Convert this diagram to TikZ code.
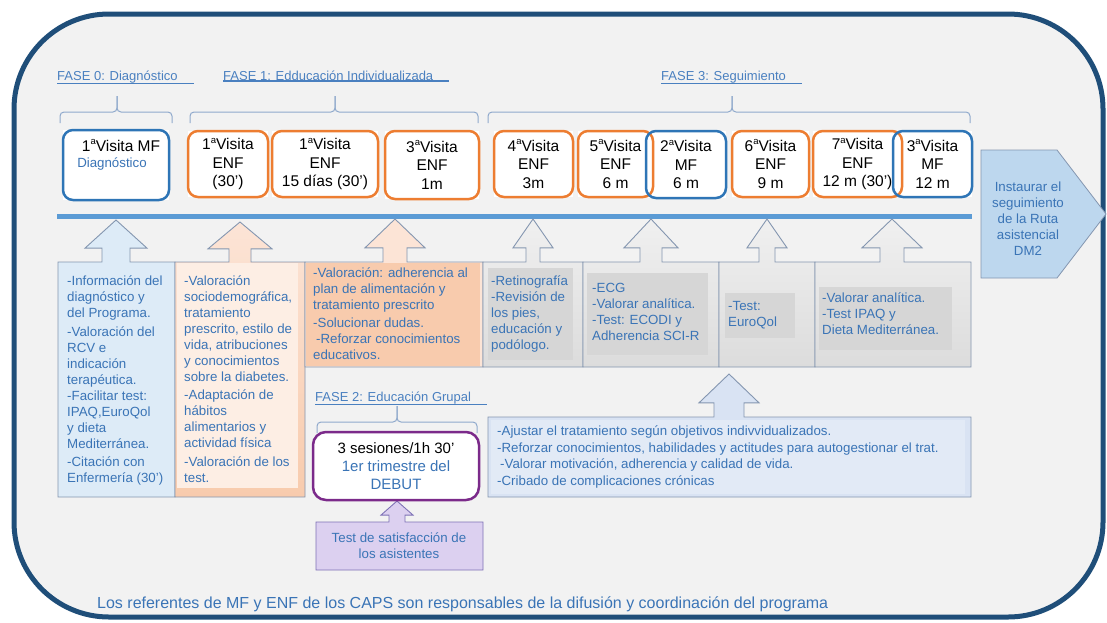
\documentclass[tikz,border=0pt]{standalone}
\usepackage{fontspec}
\setmainfont{Liberation Sans}
\usepackage{tikz}
\usetikzlibrary{calc}

\definecolor{framenavy}{HTML}{1F4E79}
\definecolor{panelgray}{HTML}{F2F2F2}
\definecolor{mfblue}{HTML}{2E75B6}
\definecolor{enforange}{HTML}{ED7D31}
\definecolor{lineblue}{HTML}{5B9BD5}
\definecolor{phaseblue}{HTML}{4A80C0}
\definecolor{textblue}{HTML}{3A74B6}
\definecolor{edgegray}{HTML}{8496B0}
\definecolor{bracegray}{HTML}{8FA9CC}
\definecolor{paleblue}{HTML}{DDEBF7}
\definecolor{lightblue}{HTML}{BDD7EE}
\definecolor{peachlt}{HTML}{FCE4D6}
\definecolor{peach}{HTML}{F8CBAD}
\definecolor{peachpale}{HTML}{FDEEE4}
\definecolor{graylt}{HTML}{F0F0F0}
\definecolor{graydk}{HTML}{DCDCDC}
\definecolor{grayback}{HTML}{D6D6D6}
\definecolor{skyfill}{HTML}{D9E3F3}
\definecolor{skyback}{HTML}{E2EAF6}
\definecolor{lavender}{HTML}{DCD0F0}
\definecolor{lavedge}{HTML}{7E72B6}
\definecolor{sespurple}{HTML}{7B2A8A}

\newcommand{\boxfont}{\fontsize{15.5}{18.5}\selectfont}
\newcommand{\callfont}{\fontsize{13.3}{16}\selectfont}
\newcommand{\phasefont}{\fontsize{13}{15}\selectfont}
\newcommand{\notefont}{\fontsize{16}{19}\selectfont}
\newcommand{\ordsup}{\raisebox{0.42em}{\fontsize{9.5}{9.5}\selectfont a}}

\newcommand{\upcallout}[9]{%
  \draw[#1] (#2,#5) -- (#2,#4) -- ({#6-#7},#4) -- ({#6-#7},{#4-0.33*#9})
    -- ({#6-#8},{#4-0.33*#9}) -- (#6,{#4-#9}) -- ({#6+#8},{#4-0.33*#9})
    -- ({#6+#7},{#4-0.33*#9}) -- ({#6+#7},#4) -- (#3,#4) -- (#3,#5) -- cycle;}
\newcommand{\phasebrace}[4]{%
  \draw[bracepath] (#1,{#4+11}) |- (#3,#4) -- (#3,{#4-16});
  \draw[bracepath] (#2,{#4+11}) |- (#3,#4) -- (#3,{#4-16});}

\begin{document}
\begin{tikzpicture}[x=1pt, y=-1pt,
    visitbox/.style={fill=white, inner sep=0pt, outer sep=0pt, align=center, font=\boxfont},
    phase/.style={anchor=base west, inner sep=0pt, text=phaseblue, font=\phasefont},
    phaseline/.style={draw=phaseblue, line width=1.6pt},
    bracepath/.style={draw=bracegray, line width=1pt, rounded corners=4pt},
    calltext/.style={anchor=north west, inner sep=0pt, align=left, text=textblue, font=\callfont},
    callblue/.style={fill=paleblue, draw=edgegray, line width=0.9pt},
    callpeach/.style={top color=peachlt, bottom color=peach, draw=edgegray, line width=0.9pt},
    callpeachlt/.style={fill=peachlt, draw=edgegray, line width=0.9pt},
    callgray/.style={top color=graylt, bottom color=graydk, draw=edgegray, line width=0.9pt},
    callsky/.style={fill=skyfill, draw=edgegray, line width=0.9pt},
    calllav/.style={fill=lavender, draw=lavedge, line width=0.9pt}]
  \useasboundingbox (0,0) rectangle (1107,622);
  \draw[framenavy, line width=5pt, fill=panelgray, rounded corners=95pt] (14,14) rectangle (1103,617);

  \node[phase] (f0) at (57,80.5) {FASE 0: Diagnóstico};
  \node[phase] (f1) at (223,80.5) {FASE 1: Edducación Individualizada};
  \node[phase] (f3) at (661,80.5) {FASE 3: Seguimiento};
  \node[phase] (f2) at (315,401.5) {FASE 2: Educación Grupal};
  \foreach \f in {f0,f1,f2,f3}
    \draw[phaseline] (\f.south west) -- ([xshift=16pt]\f.south east);
  \phasebrace{60}{172}{117}{112}
  \phasebrace{190}{478}{335}{112}
  \phasebrace{488}{970}{732}{112}
  \phasebrace{317}{477}{397}{422}

  \node[visitbox, minimum width=106pt, minimum height=70pt] (v0) at (116,165) {};
  \node[anchor=base, inner sep=0pt, font=\boxfont] (v0a) at (121,151.5) {1\ordsup Visita MF};
  \node[anchor=base, inner sep=0pt, font=\callfont, text=textblue] (v0b) at (112,167.5) {Diagnóstico};
  \node[visitbox, minimum width=80pt, minimum height=66pt] (v1) at (228,164) {1\ordsup Visita\\ENF\\(30’)};
  \node[visitbox, minimum width=106pt, minimum height=66pt] (v2) at (325,164) {1\ordsup Visita\\ENF\\15 días (30’)};
  \node[visitbox, minimum width=94pt, minimum height=68pt] (v3) at (432,165) {3\ordsup Visita\\ENF\\1m};
  \node[visitbox, minimum width=79pt, minimum height=66pt] (v4) at (533.5,164) {4\ordsup Visita\\ENF\\3m};
  \node[visitbox, minimum width=75pt, minimum height=66pt] (v5) at (615.5,164) {5\ordsup Visita\\ENF\\6 m};
  \node[visitbox, minimum width=80pt, minimum height=67pt] (v6) at (686,164.5) {2\ordsup Visita\\MF\\6 m};
  \node[visitbox, minimum width=77pt, minimum height=66pt] (v7) at (770.5,164) {6\ordsup Visita\\ENF\\9 m};
  \node[visitbox, minimum width=89pt, minimum height=66pt] (v8) at (857.5,164) {7\ordsup Visita\\ENF\\12 m (30’)};
  \node[visitbox, minimum width=79pt, minimum height=66pt] (v9) at (932.5,164) {3\ordsup Visita\\MF\\12 m};
  \foreach \v/\c in {v1/enforange, v2/enforange, v3/enforange, v4/enforange, v5/enforange,
                     v7/enforange, v8/enforange, v0/mfblue, v6/mfblue, v9/mfblue}
    \draw[\c, line width=2.5pt, rounded corners=10pt] (\v.north west) rectangle (\v.south east);

  \draw[lineblue, line width=5pt] (57,216) -- (972,216);

  \draw[fill=lightblue, draw=edgegray, line width=0.8pt] (981,150) -- (1057,150) -- (1106,214) -- (1057,278) -- (981,278) -- cycle;
  \node[font=\callfont, text=textblue, align=center] (ruta) at (1028,219) {Instaurar el\\seguimiento\\de la Ruta\\asistencial\\DM2};

  \upcallout{callblue}{58}{175}{262}{497}{116}{14}{31}{42}
  \upcallout{callpeach}{175}{305}{262}{497}{240}{11}{32}{40}
  \upcallout{callpeachlt}{305}{483}{262}{367}{395}{12}{30}{43}
  \upcallout{callgray}{483}{583}{262}{367}{533}{7}{20}{43}
  \upcallout{callgray}{583}{719}{262}{367}{651}{11}{27}{43}
  \upcallout{callgray}{719}{815}{262}{367}{767}{8}{20}{43}
  \upcallout{callgray}{815}{971}{262}{367}{892}{12}{30}{43}
  \upcallout{callsky}{488}{971}{417}{497}{729}{15}{30}{43}
  \upcallout{calllav}{316}{483}{522}{570}{397}{8}{16}{21}

  \fill[peachpale] (177,263) rectangle (298,488);
  \fill[peach] (306,263) rectangle (480,366);
  \fill[grayback] (488,268) rectangle (573,360);
  \fill[grayback] (587,273) rectangle (708,355);
  \fill[grayback] (725,293) rectangle (795,338);
  \fill[grayback] (819,287) rectangle (952,350);
  \fill[skyback] (491,420) rectangle (965,494);

  \node[calltext] (c1) at (67,275.5) {-Información del\\diagnóstico y\\del Programa.\\[3pt]-Valoración del\\RCV e\\indicación\\terapéutica.\\-Facilitar test:\\IPAQ,EuroQol\\y dieta\\Mediterránea.\\[2pt]-Citación con\\Enfermería (30’)};
  \node[calltext] (c2) at (184,275.5) {-Valoración\\sociodemográfica,\\tratamiento\\prescrito, estilo de\\vida, atribuciones\\y conocimientos\\sobre la diabetes.\\[2pt]-Adaptación de\\hábitos\\alimentarios y\\actividad física\\[3pt]-Valoración de los\\test.};
  \node[calltext] (c3) at (313,267.5) {-Valoración: adherencia al\\plan de alimentación y\\tratamiento prescrito\\[2pt]-Solucionar dudas.\\\hspace*{3pt}-Reforzar conocimientos\\educativos.};
  \node[calltext] (c4) at (491,275.5) {-Retinografía\\-Revisión de\\los pies,\\educación y\\podólogo.};
  \node[calltext] (c5) at (592,283.5) {-ECG\\-Valorar analítica.\\-Test: ECODI y\\Adherencia SCI-R};
  \node[calltext] (c6) at (728,301.5) {-Test:\\EuroQol};
  \node[calltext] (c7) at (822,292.5) {-Valorar analítica.\\-Test IPAQ y\\Dieta Mediterránea.};
  \node[calltext, font=\fontsize{13.3}{16.7}\selectfont] (c8) at (497,425.5) {-Ajustar el tratamiento según objetivos indivvidualizados.\\-Reforzar conocimientos, habilidades y actitudes para autogestionar el trat.\\\hspace*{3pt}-Valorar motivación, adherencia y calidad de vida.\\-Cribado de complicaciones crónicas};

  \node[draw=sespurple, line width=2.5pt, rounded corners=13pt, fill=white, inner sep=0pt, align=center,
        font=\fontsize{15}{18}\selectfont, minimum width=166pt, minimum height=68pt] (ses) at (396,466)
        {3 sesiones/1h 30’\\{\color{textblue}1er trimestre del}\\{\color{textblue}DEBUT}};
  \node[font=\callfont, text=textblue, align=center] (sat) at (399,546) {Test de satisfacción de\\los asistentes};

  \node[anchor=base west, inner sep=0pt, font=\notefont, text=textblue] (note) at (97,608)
    {Los referentes de MF y ENF de los CAPS son responsables de la difusión y coordinación del programa};
\end{tikzpicture}
\end{document}
